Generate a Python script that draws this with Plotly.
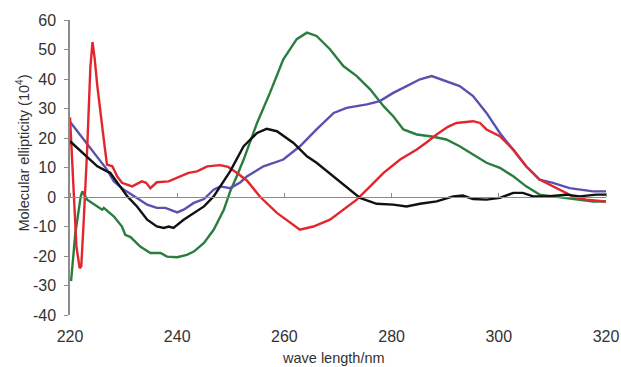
import plotly.graph_objects as go

# wavelength (nm) and molecular ellipticity (10^4)
red_x = [220.0, 220.7, 221.2, 221.8, 222.1, 222.6, 223.2, 223.8, 224.2, 224.6, 225.1, 226.3, 226.9,
         227.9, 228.8, 229.7, 231.6, 233.4, 234.2, 235.0, 236.2, 238.4, 240.0, 242.1, 243.7, 245.6,
         248.0, 249.5, 251.1, 253.0, 255.5, 258.6, 262.9, 265.4, 268.5, 271.0, 273.5, 276.0, 278.5,
         281.6, 284.7, 286.5, 288.4, 290.5, 292.1, 295.2, 296.5, 297.7, 300.2, 302.7, 305.1, 307.6,
         310.1, 312.0, 313.8, 316.3, 320.0]
red_y = [27.0, 3.6, -16.8, -24.1, -23.5, -6.6, 16.0, 44.0, 52.5, 47.0, 37.6, 19.5, 11.0,
         10.4, 7.0, 4.8, 3.6, 5.3, 4.8, 3.0, 5.0, 5.3, 6.5, 8.2, 8.7, 10.4,
         10.8, 10.2, 8.2, 5.6, 0.0, -5.4, -11.1, -10.0, -7.7, -4.3, -0.9, 3.6, 8.2,
         12.7, 16.1, 18.5, 21.2, 23.8, 25.1, 25.7, 25.1, 22.9, 20.6, 16.1, 10.4, 5.9,
         3.6, 1.9, 0.2, -0.9, -1.5]

blue_x = [220.0, 222.6, 225.1, 226.9, 228.2, 230.0, 232.5, 234.4, 236.2, 237.8, 240.0, 241.2, 243.1,
          245.0, 246.8, 248.0, 249.9, 251.8, 253.0, 256.1, 259.8, 262.9, 266.0, 269.2, 271.6, 275.4,
          277.8, 280.3, 282.8, 285.3, 287.5, 290.2, 292.7, 295.2, 297.7, 300.2, 302.7, 305.1, 307.6,
          310.1, 313.2, 315.1, 317.6, 320.0]
blue_y = [25.5, 19.5, 13.8, 9.3, 5.3, 2.5, -0.3, -2.6, -3.7, -3.7, -5.2, -4.3, -2.0,
          -0.7, 2.5, 3.6, 3.0, 5.0, 7.0, 10.4, 12.7, 17.2, 22.9, 28.5, 30.2, 31.4,
          32.5, 35.3, 37.6, 39.9, 41.0, 39.3, 37.6, 34.2, 28.5, 21.7, 16.1, 10.4, 5.9,
          4.8, 3.0, 2.5, 1.9, 1.9]

black_x = [220.0, 222.6, 225.1, 226.9, 227.5, 229.1, 230.7, 232.5, 234.4, 236.2, 237.5, 238.4, 239.3,
           241.2, 243.1, 245.0, 246.8, 248.0, 249.9, 252.4, 254.9, 256.7, 258.6, 261.7, 264.2, 266.0,
           269.2, 271.6, 274.1, 277.2, 280.3, 282.8, 285.3, 288.4, 291.5, 293.3, 295.2, 297.7, 300.2,
           302.7, 304.5, 306.4, 308.9, 312.6, 315.1, 318.2, 320.0]
black_y = [18.9, 14.4, 10.4, 8.7, 8.2, 4.2, 0.2, -3.2, -7.7, -10.0, -10.5, -10.0, -10.5,
           -7.7, -5.4, -3.2, 0.2, 3.6, 8.8, 17.2, 21.7, 23.1, 22.3, 18.3, 13.8, 11.6,
           7.0, 3.6, -0.3, -2.3, -2.6, -3.2, -2.3, -1.5, 0.2, 0.5, -0.7, -0.9, -0.3,
           1.4, 1.4, 0.2, 0.2, 0.8, 0.2, 0.8, 0.8]

green_x = [220.2, 221.0, 222.0, 222.3, 223.2, 225.1, 226.0, 226.3, 228.2, 229.7, 230.3, 231.3, 233.1,
           235.0, 236.9, 238.1, 240.0, 241.8, 243.1, 245.0, 246.8, 248.7, 250.0, 251.0, 252.4, 254.9,
           257.3, 259.8, 262.3, 264.2, 266.0, 268.5, 271.0, 273.5, 276.0, 278.5, 280.3, 282.2, 284.7,
           287.5, 290.2, 292.7, 295.2, 297.7, 300.2, 302.7, 305.1, 307.6, 310.1, 312.6, 315.1, 317.6,
           320.0]
green_y = [-28.5, -12.2, 0.2, 1.9, -0.9, -3.2, -4.3, -3.7, -6.6, -10.0, -12.8, -13.6, -16.8,
           -19.0, -19.0, -20.2, -20.4, -19.6, -18.5, -15.6, -11.1, -4.3, 2.5, 6.5, 12.7, 25.1,
           35.3, 46.7, 53.5, 55.7, 54.6, 50.1, 44.4, 41.0, 36.5, 30.8, 27.4, 22.9, 21.2,
           20.5, 19.5, 17.2, 14.4, 11.6, 9.9, 7.0, 3.6, 0.8, 0.2, -0.3, -0.9, -1.5,
           -1.5]

x_ticks = [220, 240, 260, 280, 300, 320]
y_ticks = [-40, -30, -20, -10, 0, 10, 20, 30, 40, 50, 60]

font_family = "Liberation Sans, Arial, sans-serif"
text_color = "#333333"
axis_color = "#8c8c8c"

fig = go.Figure()
series = [
    (green_x, green_y, "#2a7d3f"),
    (blue_x, blue_y, "#5a50ae"),
    (red_x, red_y, "#e3262c"),
    (black_x, black_y, "#111111"),
]
for xs, ys, col in series:
    fig.add_trace(go.Scatter(x=xs, y=ys, mode="lines",
                             line=dict(color=col, width=2.4), showlegend=False,
                             hoverinfo="skip"))

# zero-crossing category axis with upward ticks
fig.add_trace(go.Scatter(x=[220, 320], y=[0, 0], xaxis="x2", mode="lines",
                         line=dict(width=0), showlegend=False, hoverinfo="skip"))

fig.update_layout(
    width=621, height=367,
    margin=dict(l=69.5, r=14.5, t=20, b=52, autoexpand=False),
    paper_bgcolor="white", plot_bgcolor="white",
    font=dict(family=font_family, color=text_color, size=16),
    xaxis=dict(range=[220, 320], tickvals=x_ticks, ticktext=[str(v) for v in x_ticks],
               showgrid=False, zeroline=False, showline=False, ticks="",
               ticklabelstandoff=10, tickfont=dict(size=16), automargin=False),
    xaxis2=dict(range=[220, 320], overlaying="x", anchor="free", position=0.4, side="top",
                tickvals=x_ticks, showticklabels=False, showgrid=False, zeroline=False,
                showline=True, linecolor=axis_color, linewidth=1.2, automargin=False,
                ticks="outside", ticklen=4, tickcolor=axis_color, tickwidth=1),
    yaxis=dict(range=[-40, 60], tickvals=y_ticks, ticktext=[str(v) for v in y_ticks],
               showgrid=False, zeroline=True, zerolinecolor=axis_color, zerolinewidth=1.2,
               showline=True, linecolor=axis_color, automargin=False,
               linewidth=1.5, ticks="outside", ticklen=4, tickcolor=axis_color,
               tickfont=dict(size=16), ticklabelstandoff=5),
    annotations=[
        dict(text="Molecular ellipticity (10<sup>4</sup>)", xref="paper", yref="paper",
             x=-0.0885, y=0.549, textangle=-90, showarrow=False,
             xanchor="center", yanchor="middle", font=dict(size=14.5)),
        dict(text="wave length/nm", xref="paper", yref="paper",
             x=0.4907, y=-0.1458, showarrow=False,
             xanchor="center", yanchor="middle", font=dict(size=14.5)),
    ],
)

fig.write_html("out.html", config={"displayModeBar": False},
               post_script="document.body.style.margin='0';document.body.style.padding='0';")
